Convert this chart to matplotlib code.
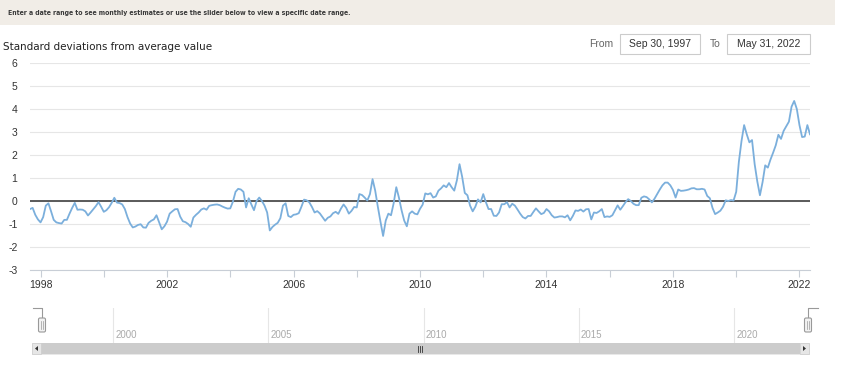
import matplotlib
matplotlib.use("Agg")
import matplotlib.pyplot as plt
import numpy as np
import pandas as pd
from matplotlib import font_manager
from matplotlib.patches import Rectangle, FancyBboxPatch, Polygon

# monthly index values (std devs from average), Sep 1997 .. May 2022
v1997 = [-0.35, -0.30, -0.60, -0.80]
v1998 = [-0.93, -0.70, -0.20, -0.10, -0.45, -0.82, -0.93, -0.96, -0.98, -0.82, -0.82, -0.55]
v1999 = [-0.30, -0.08, -0.38, -0.37, -0.38, -0.45, -0.63, -0.50, -0.36, -0.22, -0.05, -0.25]
v2000 = [-0.47, -0.40, -0.27, -0.08, 0.14, -0.07, -0.09, -0.15, -0.35, -0.70, -0.98, -1.15]
v2001 = [-1.11, -1.04, -1.01, -1.15, -1.16, -0.95, -0.86, -0.80, -0.62, -0.92, -1.23, -1.10]
v2002 = [-0.90, -0.55, -0.45, -0.36, -0.35, -0.68, -0.88, -0.92, -1.00, -1.12, -0.72, -0.60]
v2003 = [-0.50, -0.37, -0.32, -0.38, -0.21, -0.18, -0.16, -0.15, -0.18, -0.24, -0.29, -0.33]
v2004 = [-0.32, -0.03, 0.40, 0.53, 0.50, 0.40, -0.28, 0.12, -0.15, -0.40, 0.00, 0.15]
v2005 = [0.00, -0.20, -0.50, -1.28, -1.13, -1.03, -0.95, -0.75, -0.20, -0.10, -0.65, -0.70]
v2006 = [-0.60, -0.58, -0.53, -0.25, 0.06, 0.03, -0.06, -0.26, -0.50, -0.44, -0.54, -0.70]
v2007 = [-0.86, -0.73, -0.67, -0.53, -0.47, -0.56, -0.33, -0.15, -0.30, -0.55, -0.43, -0.26]
v2008 = [-0.28, 0.30, 0.26, 0.15, 0.02, 0.30, 0.95, 0.45, -0.25, -0.90, -1.52, -0.85]
v2009 = [-0.55, -0.62, -0.10, 0.60, 0.15, -0.40, -0.85, -1.10, -0.55, -0.45, -0.55, -0.58]
v2010 = [-0.34, -0.16, 0.33, 0.29, 0.34, 0.15, 0.20, 0.45, 0.55, 0.68, 0.60, 0.78]
v2011 = [0.60, 0.45, 0.90, 1.60, 1.05, 0.35, 0.25, -0.20, -0.45, -0.25, 0.07, -0.06]
v2012 = [0.30, -0.05, -0.35, -0.35, -0.64, -0.65, -0.50, -0.14, -0.14, -0.05, -0.28, -0.12]
v2013 = [-0.20, -0.37, -0.55, -0.70, -0.76, -0.65, -0.65, -0.48, -0.32, -0.45, -0.57, -0.52]
v2014 = [-0.35, -0.45, -0.62, -0.72, -0.70, -0.67, -0.67, -0.71, -0.62, -0.84, -0.65, -0.41]
v2015 = [-0.43, -0.37, -0.46, -0.36, -0.35, -0.80, -0.50, -0.52, -0.45, -0.35, -0.70, -0.67]
v2016 = [-0.69, -0.62, -0.40, -0.19, -0.38, -0.22, -0.05, 0.08, 0.00, -0.12, -0.18, -0.18]
v2017 = [0.14, 0.20, 0.17, 0.07, -0.06, 0.10, 0.30, 0.50, 0.68, 0.80, 0.80, 0.68]
v2018 = [0.48, 0.15, 0.50, 0.44, 0.45, 0.47, 0.50, 0.55, 0.56, 0.51, 0.51, 0.53]
v2019 = [0.50, 0.22, 0.12, -0.30, -0.57, -0.50, -0.42, -0.25, 0.03, 0.00, 0.04, 0.02]
v2020 = [0.40, 1.70, 2.60, 3.30, 2.90, 2.55, 2.65, 1.60, 0.85, 0.25, 0.82, 1.55]
v2021 = [1.45, 1.80, 2.10, 2.42, 2.88, 2.70, 3.05, 3.25, 3.45, 4.10, 4.35, 4.00]
v2022 = [3.30, 2.78, 2.80, 3.30, 2.90]

values = (v1997 + v1998 + v1999 + v2000 + v2001 + v2002 + v2003 + v2004 + v2005
          + v2006 + v2007 + v2008 + v2009 + v2010 + v2011 + v2012 + v2013 + v2014
          + v2015 + v2016 + v2017 + v2018 + v2019 + v2020 + v2021 + v2022)

y_ticks = list(range(-3, 7))
x_label_years = [1998, 2002, 2006, 2010, 2014, 2018, 2022]
nav_years = [2000, 2005, 2010, 2015, 2020]

HEADER = "Enter a date range to see monthly estimates or use the slider below to view a specific date range."
TITLE = "Standard deviations from average value"
DATE_FROM = "Sep 30, 1997"
DATE_TO = "May 31, 2022"

SANS = ["Liberation Sans", "DejaVu Sans"]


def narrow_font():
    # pick a condensed face if one is installed, else plain sans
    for fam, stretch in [("Liberation Sans Narrow", "normal"), ("DejaVu Sans", "condensed")]:
        try:
            path = font_manager.findfont(font_manager.FontProperties(family=fam, stretch=stretch),
                                         fallback_to_default=False)
        except Exception:
            continue
        if "Narrow" in path or "Condensed" in path:
            return fam, stretch
    return "Liberation Sans", "normal"


NARROW, NSTRETCH = narrow_font()

months = pd.date_range("1997-09-01", periods=len(values), freq="MS")
t = months.year + (months.month - 1) / 12.0

W, H = 845, 384
fig = plt.figure(figsize=(W / 100, H / 100), dpi=100)


def box(x0, y0, x1, y1):
    return [x0 / W, 1 - y1 / H, (x1 - x0) / W, (y1 - y0) / H]


# overlay in pixel coords for the page furniture
ov = fig.add_axes([0, 0, 1, 1], zorder=0)
ov.set_xlim(0, W); ov.set_ylim(H, 0); ov.axis("off")
ov.add_patch(Rectangle((0, 0), 835, 25, color="#f1ede7", lw=0))


def fit(txt, width):
    r = fig.canvas.get_renderer()
    w = txt.get_window_extent(r).width
    txt.set_fontsize(txt.get_fontsize() * width / w)


hdr = ov.text(8, 13, HEADER, family=NARROW, stretch=NSTRETCH, weight="bold", color="#3a3a3a",
              va="center", ha="left", fontsize=7)
ttl = ov.text(3, 47, TITLE, family=NARROW, stretch=NSTRETCH, color="#222222",
              va="center", ha="left", fontsize=8)
fit(hdr, 345)
fit(ttl, 207)

ov.text(601, 44, "From", family=SANS, color="#666666", fontsize=7.5, ha="center", va="center")
ov.add_patch(Rectangle((620, 34), 80, 20, fc="white", ec="#cccccc", lw=0.8))
ov.text(660, 44, DATE_FROM, family=SANS, color="#333333", fontsize=7.5, ha="center", va="center")
ov.text(715, 44, "To", family=SANS, color="#666666", fontsize=7.5, ha="center", va="center")
ov.add_patch(Rectangle((727, 34), 83, 20, fc="white", ec="#cccccc", lw=0.8))
ov.text(768.5, 44, DATE_TO, family=SANS, color="#333333", fontsize=7.5, ha="center", va="center")

# navigator brackets + handles
ov.plot([33, 42, 42], [308, 308, 318], color="#999999", lw=0.8)
ov.plot([818, 808, 808], [308, 308, 318], color="#999999", lw=0.8)
for hx in (42, 808):
    ov.add_patch(FancyBboxPatch((hx - 3.5, 318), 7, 14, boxstyle="round,pad=0,rounding_size=1.5",
                                fc="#f2f2f2", ec="#999999", lw=0.8, zorder=4))
    ov.plot([hx - 1, hx - 1], [321, 329], color="#999999", lw=0.5, zorder=5)
    ov.plot([hx + 1, hx + 1], [321, 329], color="#999999", lw=0.5, zorder=5)

# scrollbar
ov.add_patch(Rectangle((32, 343), 777, 11, fc="#f2f2f2", ec="#e6e6e6", lw=0.6))
ov.add_patch(Rectangle((41, 343), 759, 11, fc="#cccccc", lw=0))
ov.add_patch(Rectangle((32, 343), 9, 11, fc="#e6e6e6", ec="#cccccc", lw=0.5))
ov.add_patch(Rectangle((800, 343), 9, 11, fc="#e6e6e6", ec="#cccccc", lw=0.5))
ov.add_patch(Polygon([[38, 346], [38, 351], [35, 348.5]], closed=True, fc="#333333", lw=0))
ov.add_patch(Polygon([[803, 346], [803, 351], [806, 348.5]], closed=True, fc="#333333", lw=0))
for gx in (418.5, 420.5, 422.5):
    ov.plot([gx, gx], [345.5, 351.5], color="#333333", lw=0.6)

# navigator time scale (year lines + labels)
nav = fig.add_axes(box(32, 308, 822, 343), zorder=1)
nav.patch.set_alpha(0)
px_per_year = 31.05
nav.set_xlim(t[0] - 9 / px_per_year, t[-1] + 16 / px_per_year)
nav.set_ylim(0, 1)
nav.axis("off")
for yr in nav_years:
    nav.axvline(yr, color="#e6e6e6", lw=0.8)
    nav.text(yr + 0.08, 0.22, str(yr), color="#aaaaaa", fontsize=7, family=SANS, va="center")

# main chart
ax = fig.add_axes(box(30, 63, 810, 270), zorder=2)
ax.patch.set_alpha(0)
ax.set_xlim(t[0], t[-1])
ax.set_ylim(-3, 6)
ax.set_yticks(y_ticks)
ax.set_yticklabels([str(v) for v in y_ticks])
ax.grid(axis="y", color="#e6e6e6", lw=0.8)
ax.set_axisbelow(True)
ax.axhline(0, color="#5a5a5a", lw=1.4, zorder=2)
ax.plot(t, values, color="#7bafdc", lw=1.3, zorder=3)

ax.set_xticks(list(range(1998, 2023, 2)))
ax.set_xticklabels([str(y) if y in x_label_years else "" for y in range(1998, 2023, 2)])
for s in ("top", "right", "left"):
    ax.spines[s].set_visible(False)
ax.spines["bottom"].set_color("#c8ced6")
ax.tick_params(axis="x", length=5, color="#c8ced6", pad=2, labelsize=7.5, labelcolor="#333333")
ax.tick_params(axis="y", length=0, pad=9, labelsize=7.5, labelcolor="#333333")
for lab in ax.get_xticklabels() + ax.get_yticklabels():
    lab.set_family(SANS)

fig.savefig("out.png", dpi=100)
